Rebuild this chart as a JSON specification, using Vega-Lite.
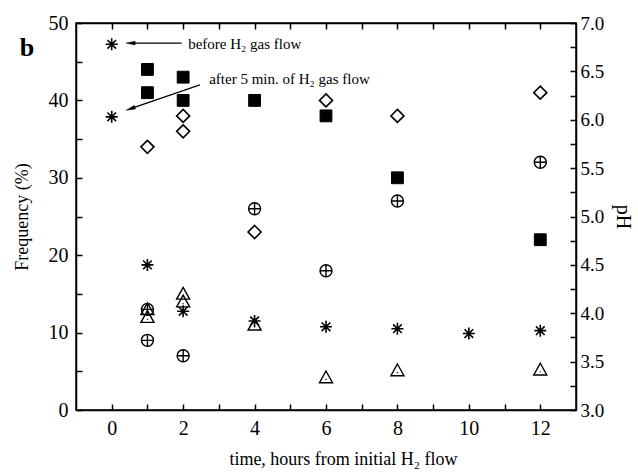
{
  "$schema": "https://vega.github.io/schema/vega-lite/v6.json",
  "width": 500,
  "height": 387,
  "autosize": {"type": "none"},
  "padding": {"left": 76, "top": 23, "right": 62, "bottom": 63},
  "background": "white",
  "config": {
    "view": {"stroke": "black", "strokeWidth": 1.5},
    "axis": {
      "domainColor": "black", "domainWidth": 1.5,
      "tickColor": "black", "tickWidth": 1.5, "tickSize": -6,
      "labelColor": "black", "labelFont": "Liberation Serif", "labelFontSize": 20,
      "titleColor": "black", "titleFont": "Liberation Serif", "titleFontSize": 18, "titleFontWeight": "normal",
      "grid": false, "labelOverlap": false, "labelPadding": 14
    },
    "text": {"font": "Liberation Serif", "color": "black"}
  },
  "datasets": {
    "freq": [
      {"t": 1, "v": 44, "s": "square"}, {"t": 1, "v": 41, "s": "square"},
      {"t": 2, "v": 43, "s": "square"}, {"t": 2, "v": 40, "s": "square"},
      {"t": 4, "v": 40, "s": "square"}, {"t": 6, "v": 38, "s": "square"},
      {"t": 8, "v": 30, "s": "square"}, {"t": 12, "v": 22, "s": "square"},
      {"t": 1, "v": 34, "s": "diamond"}, {"t": 2, "v": 38, "s": "diamond"},
      {"t": 2, "v": 36, "s": "diamond"}, {"t": 4, "v": 23, "s": "diamond"},
      {"t": 6, "v": 40, "s": "diamond"}, {"t": 8, "v": 38, "s": "diamond"},
      {"t": 12, "v": 41, "s": "diamond"},
      {"t": 1, "v": 13, "s": "oplus"}, {"t": 1, "v": 9, "s": "oplus"},
      {"t": 2, "v": 7, "s": "oplus"}, {"t": 4, "v": 26, "s": "oplus"},
      {"t": 6, "v": 18, "s": "oplus"}, {"t": 8, "v": 27, "s": "oplus"},
      {"t": 12, "v": 32, "s": "oplus"},
      {"t": 1, "v": 13, "s": "triangle"}, {"t": 1, "v": 12, "s": "triangle"},
      {"t": 2, "v": 15, "s": "triangle"}, {"t": 2, "v": 14, "s": "triangle"},
      {"t": 4, "v": 11, "s": "triangle"}, {"t": 6, "v": 4.2, "s": "triangle"},
      {"t": 8, "v": 5.1, "s": "triangle"}, {"t": 12, "v": 5.2, "s": "triangle"}
    ],
    "ph": [
      {"t": 0, "p": 6.78}, {"t": 0, "p": 6.03}, {"t": 1, "p": 4.5},
      {"t": 2, "p": 4.02}, {"t": 4, "p": 3.92}, {"t": 6, "p": 3.86},
      {"t": 8, "p": 3.84}, {"t": 10, "p": 3.79}, {"t": 12, "p": 3.82}
    ],
    "arrows": [
      {"x1": 1.96, "y1": 47.4, "x2": 0.53, "y2": 47.4, "ang": 270},
      {"x1": 2.47, "y1": 42.0, "x2": 0.53, "y2": 38.93, "ang": 251}
    ],
    "notes": [
      {"x": 2.14, "y": 47.3, "label": "before H₂ gas flow"},
      {"x": 2.73, "y": 42.8, "label": "after 5 min. of H₂ gas flow"}
    ],
    "panel": [{"x": -2.37, "y": 46.8, "label": "b"}]
  },
  "layer": [
    {
      "data": {"name": "freq"},
      "transform": [{"filter": "datum.s == 'square'"}],
      "mark": {"type": "point", "shape": "M-1,-1L1,-1L1,1L-1,1Z", "filled": true, "fill": "black", "stroke": "black", "strokeWidth": 1, "size": 140, "opacity": 1},
      "encoding": {
        "x": {"field": "t", "type": "quantitative", "scale": {"domain": [-1, 13], "nice": false, "zero": false},
          "axis": {"orient": "bottom", "values": [0,1,2,3,4,5,6,7,8,9,10,11,12], "labelExpr": "datum.value % 2 == 0 ? datum.label : ''",
            "title": "time, hours from initial H₂ flow", "titleX": 267, "titleY": 54, "titleBaseline": "alphabetic", "titleAlign": "center"}},
        "y": {"field": "v", "type": "quantitative", "scale": {"domain": [0, 50], "nice": false, "zero": false},
          "axis": {"orient": "left", "values": [0,5,10,15,20,25,30,35,40,45,50], "labelExpr": "datum.value % 10 == 0 ? datum.label : ''",
            "title": "Frequency (%)", "titleX": -54, "titleY": 193.5, "titleAngle": -90, "titleBaseline": "middle", "titleAlign": "center"}}
      }
    },
    {
      "data": {"name": "freq"},
      "transform": [{"filter": "datum.s == 'diamond'"}],
      "mark": {"type": "point", "shape": "M0,-1L1,0L0,1L-1,0Z", "filled": false, "stroke": "black", "strokeWidth": 1.6, "size": 170, "opacity": 1},
      "encoding": {
        "x": {"field": "t", "type": "quantitative", "scale": {"domain": [-1, 13], "nice": false, "zero": false}, "axis": null},
        "y": {"field": "v", "type": "quantitative", "scale": {"domain": [0, 50], "nice": false, "zero": false}, "axis": null}
      }
    },
    {
      "data": {"name": "freq"},
      "transform": [{"filter": "datum.s == 'oplus'"}],
      "mark": {"type": "point", "shape": "M-1,0A1,1,0,1,1,1,0A1,1,0,1,1,-1,0ZM-1,0L1,0M0,-1L0,1", "filled": false, "stroke": "black", "strokeWidth": 1.4, "size": 144, "opacity": 1},
      "encoding": {
        "x": {"field": "t", "type": "quantitative", "scale": {"domain": [-1, 13], "nice": false, "zero": false}, "axis": null},
        "y": {"field": "v", "type": "quantitative", "scale": {"domain": [0, 50], "nice": false, "zero": false}, "axis": null}
      }
    },
    {
      "data": {"name": "freq"},
      "transform": [{"filter": "datum.s == 'triangle'"}],
      "mark": {"type": "point", "shape": "M0,-1L1,0.8L-1,0.8ZM0,0.25L0,0.4", "filled": false, "stroke": "black", "strokeWidth": 1.4, "size": 170, "opacity": 1},
      "encoding": {
        "x": {"field": "t", "type": "quantitative", "scale": {"domain": [-1, 13], "nice": false, "zero": false}, "axis": null},
        "y": {"field": "v", "type": "quantitative", "scale": {"domain": [0, 50], "nice": false, "zero": false}, "axis": null}
      }
    },
    {
      "data": {"name": "arrows"},
      "mark": {"type": "rule", "color": "black", "strokeWidth": 1.2},
      "encoding": {
        "x": {"field": "x1", "type": "quantitative", "scale": {"domain": [-1, 13], "nice": false, "zero": false}, "axis": null},
        "y": {"field": "y1", "type": "quantitative", "scale": {"domain": [0, 50], "nice": false, "zero": false}, "axis": null},
        "x2": {"field": "x2"},
        "y2": {"field": "y2"}
      }
    },
    {
      "data": {"name": "arrows"},
      "mark": {"type": "point", "shape": "M0,-1L0.4,1L-0.4,1Z", "filled": true, "fill": "black", "stroke": "black", "strokeWidth": 0.5, "size": 80, "opacity": 1},
      "encoding": {
        "x": {"field": "x2", "type": "quantitative", "scale": {"domain": [-1, 13], "nice": false, "zero": false}, "axis": null},
        "y": {"field": "y2", "type": "quantitative", "scale": {"domain": [0, 50], "nice": false, "zero": false}, "axis": null},
        "angle": {"field": "ang", "type": "quantitative", "scale": null}
      }
    },
    {
      "data": {"name": "notes"},
      "mark": {"type": "text", "align": "left", "baseline": "middle", "fontSize": 15},
      "encoding": {
        "x": {"field": "x", "type": "quantitative", "scale": {"domain": [-1, 13], "nice": false, "zero": false}, "axis": null},
        "y": {"field": "y", "type": "quantitative", "scale": {"domain": [0, 50], "nice": false, "zero": false}, "axis": null},
        "text": {"field": "label"}
      }
    },
    {
      "data": {"name": "panel"},
      "mark": {"type": "text", "align": "center", "baseline": "middle", "fontSize": 26, "fontWeight": "bold"},
      "encoding": {
        "x": {"field": "x", "type": "quantitative", "scale": {"domain": [-1, 13], "nice": false, "zero": false}, "axis": null},
        "y": {"field": "y", "type": "quantitative", "scale": {"domain": [0, 50], "nice": false, "zero": false}, "axis": null},
        "text": {"field": "label"}
      }
    },
    {
      "data": {"name": "ph"},
      "mark": {"type": "point", "shape": "M0,-1L0,1M-1,0L1,0M-0.72,-0.72L0.72,0.72M-0.72,0.72L0.72,-0.72", "filled": false, "stroke": "black", "strokeWidth": 1.6, "size": 144, "opacity": 1},
      "encoding": {
        "x": {"field": "t", "type": "quantitative", "scale": {"domain": [-1, 13], "nice": false, "zero": false},
          "axis": {"orient": "top", "values": [0,1,2,3,4,5,6,7,8,9,10,11,12], "labels": false, "title": null}},
        "y": {"field": "p", "type": "quantitative", "scale": {"domain": [3, 7], "nice": false, "zero": false},
          "axis": {"orient": "right", "values": [3,3.25,3.5,3.75,4,4.25,4.5,4.75,5,5.25,5.5,5.75,6,6.25,6.5,6.75,7],
            "format": ".1f", "labelExpr": "(datum.value * 2) % 1 == 0 ? datum.label : ''", "labelPadding": 10, "labelFontSize": 19,
            "title": "pH", "titleFontSize": 20, "titleX": 46, "titleY": 193.5, "titleAngle": 90, "titleBaseline": "middle", "titleAlign": "center"}}
      }
    }
  ],
  "resolve": {"scale": {"y": "independent"}, "axis": {"x": "independent", "y": "independent"}}
}
